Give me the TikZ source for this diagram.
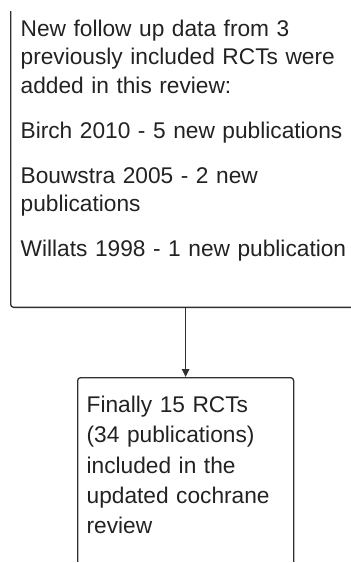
\documentclass[tikz,border=0pt]{standalone}
\usepackage{fontspec}
\setmainfont{Liberation Sans}
\usetikzlibrary{arrows.meta,positioning}
\definecolor{boxgrey}{HTML}{303030}
\definecolor{textgrey}{HTML}{222222}

\begin{document}
\begin{tikzpicture}[
    x=1pt, y=-1pt,
    flowbox/.style={draw=boxgrey, line width=1.3pt, rounded corners=3pt, align=left, text=textgrey, inner xsep=10pt},
    arrow/.style={-{Triangle[length=8pt, width=7.5pt]}, line width=1.3pt, draw=boxgrey}
  ]
    \useasboundingbox (0,0) rectangle (351,563);
    \clip (0,11) rectangle (351,561);
    \node[flowbox, anchor=south west, text width=340pt, inner ysep=46pt, text height=60pt,
          font=\fontsize{22.7pt}{28.5pt}\selectfont] (added) at (10,308)
      {New follow up data from 3\\previously included RCTs were\\added in this review:\\[16.5pt]Birch 2010 - 5 new publications\\[16.5pt]Bouwstra 2005 - 2 new\\publications\\[16.5pt]Willats 1998 - 1 new publication};
    \node[flowbox, anchor=north west, text width=198pt, inner xsep=9pt, inner ysep=15pt, text height=20pt, text depth=200pt,
          font=\fontsize{22.7pt}{30.3pt}\selectfont] (final) at (77,377)
      {Finally 15 RCTs\\(34 publications)\\included in the\\updated cochrane\\review};
    \draw[arrow] (added.south -| final.north) -- (final.north);
  \end{tikzpicture}
\end{document}
